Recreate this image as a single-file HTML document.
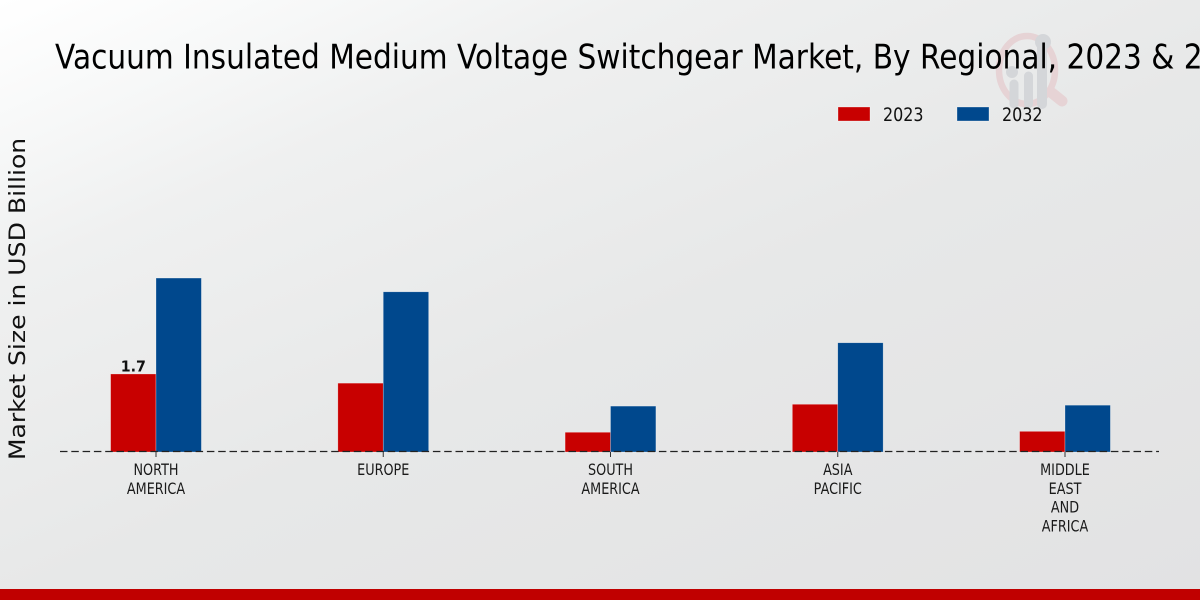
<!DOCTYPE html>
<html lang="en">
<head>
<meta charset="utf-8">
<title>Vacuum Insulated Medium Voltage Switchgear Market, By Regional</title>
<style>
html,body{margin:0;padding:0;background:#e4e4e5;}
#chart{display:block;width:1200px;height:600px;overflow:hidden;}
text{font-family:"DejaVu Sans","Liberation Sans",sans-serif;}
</style>
</head>
<body>
<svg id="chart" xmlns="http://www.w3.org/2000/svg" width="1200" height="600" viewBox="0 0 1200 600">
  <defs>
    <linearGradient id="bg" gradientUnits="userSpaceOnUse" x1="0" y1="0" x2="413" y2="949">
      <stop offset="0" stop-color="#ffffff"/>
      <stop offset="0.126" stop-color="#f7f8f8"/>
      <stop offset="0.25" stop-color="#eff0f0"/>
      <stop offset="0.465" stop-color="#e9eaea"/>
      <stop offset="0.535" stop-color="#e7e8e8"/>
      <stop offset="1" stop-color="#e2e2e3"/>
    </linearGradient>
  </defs>
  <rect x="0" y="0" width="1200" height="600" fill="url(#bg)"/>
  <g>
    <ellipse cx="1027" cy="70" rx="28" ry="34" fill="none" stroke="#e6d3d5" stroke-width="6.5"/>
    <line x1="1052" y1="93" x2="1062" y2="101" stroke="#e6d3d5" stroke-width="11" stroke-linecap="round"/>
    <line x1="1014" y1="84" x2="1014" y2="104" stroke="#d4d6d9" stroke-width="9" stroke-linecap="round"/>
    <line x1="1028.500" y1="76" x2="1028.500" y2="104" stroke="#d4d6d9" stroke-width="9" stroke-linecap="round"/>
    <line x1="1042" y1="46" x2="1042" y2="104" stroke="#d4d6d9" stroke-width="10" stroke-linecap="round"/>
    <circle cx="1012" cy="72" r="6" fill="#d4d6d9"/>
    <circle cx="1043" cy="42" r="8" fill="#d4d6d9"/>
  </g>
  <text transform="translate(55,68.5) scale(0.871,1)" x="0" y="0" font-size="34" fill="#000000">Vacuum Insulated Medium Voltage Switchgear Market, By Regional, 2023 &amp; 2032</text>
  <g>
    <rect x="838" y="107" width="32" height="14" fill="#c80000" stroke="#ffffff" stroke-opacity="0.5" stroke-width="0.6"/>
    <text transform="translate(883,121) scale(0.84,1)" x="0" y="0" font-size="19" fill="#111111">2023</text>
    <rect x="957" y="107" width="32" height="14" fill="#00488d" stroke="#ffffff" stroke-opacity="0.5" stroke-width="0.6"/>
    <text transform="translate(1002,121) scale(0.84,1)" x="0" y="0" font-size="19" fill="#111111">2032</text>
  </g>
  <text transform="translate(25,299) scale(0.9,1) rotate(-90)" text-anchor="middle" x="0" y="0" font-size="25.1" fill="#111111">Market Size in USD Billion</text>
  <g id="plot"></g>
  <line x1="60" y1="451.5" x2="1159" y2="451.5" stroke="#222222" stroke-width="1.2" stroke-dasharray="7.5 3.8"/>
  <g id="x-axis"></g>
  <rect x="0" y="589" width="1200" height="11" fill="#c00000"/>
</svg>
<script>
const categories = [["NORTH","AMERICA"],["EUROPE"],["SOUTH","AMERICA"],["ASIA","PACIFIC"],["MIDDLE","EAST","AND","AFRICA"]];
const values2023 = [1.7, 1.5, 0.43, 1.04, 0.45];
const values2032 = [3.79, 3.49, 1.0, 2.38, 1.02];
const printedValues2023 = ["1.7", null, null, null, null];

const NS = "http://www.w3.org/2000/svg";
const plot = document.getElementById("plot");
const xAxis = document.getElementById("x-axis");
const baseY = 452;
const unitPx = 45.9;
function xCenter(i){ return 156 + i * 227.25; }
function yScale(v){ return baseY - v * unitPx; }
const barW = 45.4;

function make(tag, attrs, parent){
  const el = document.createElementNS(NS, tag);
  for (const k in attrs) el.setAttribute(k, attrs[k]);
  parent.appendChild(el);
  return el;
}
function drawBar(v, x, color, parent){
  const y = yScale(v);
  return make("rect", {x: x, y: y, width: barW, height: baseY - y, fill: color, stroke: "#ffffff", "stroke-opacity": 0.45, "stroke-width": 0.6}, parent);
}
categories.forEach(function(lines, i){
  const c = xCenter(i);
  const a = drawBar(values2023[i], c - barW, "#c80000", plot);
  
  
  const b = drawBar(values2032[i], c, "#00488d", plot);
  
  
  if (printedValues2023[i]) {
    const t = make("text", {transform: "translate(" + (c - barW / 2) + "," + (yScale(values2023[i]) - 2.5) + ") scale(0.95,1)", x: 0, y: 0, "text-anchor": "middle", "font-size": 15, "font-weight": "bold", fill: "#111111"}, plot);
    
    
    t.textContent = printedValues2023[i];
  }
  const tick = make("line", {x1: c, y1: baseY, x2: c, y2: 457, stroke: "#333333", "stroke-width": 1}, xAxis);
  
  
  lines.forEach(function(word, j){
    const lab = make("text", {transform: "translate(" + c + "," + (475 + j * 18.75) + ") scale(0.8,1)", x: 0, y: 0, "text-anchor": "middle", "font-size": 16, fill: "#1a1a1a"}, xAxis);
    
    
    lab.textContent = word;
  });
});
</script>
</body>
</html>
